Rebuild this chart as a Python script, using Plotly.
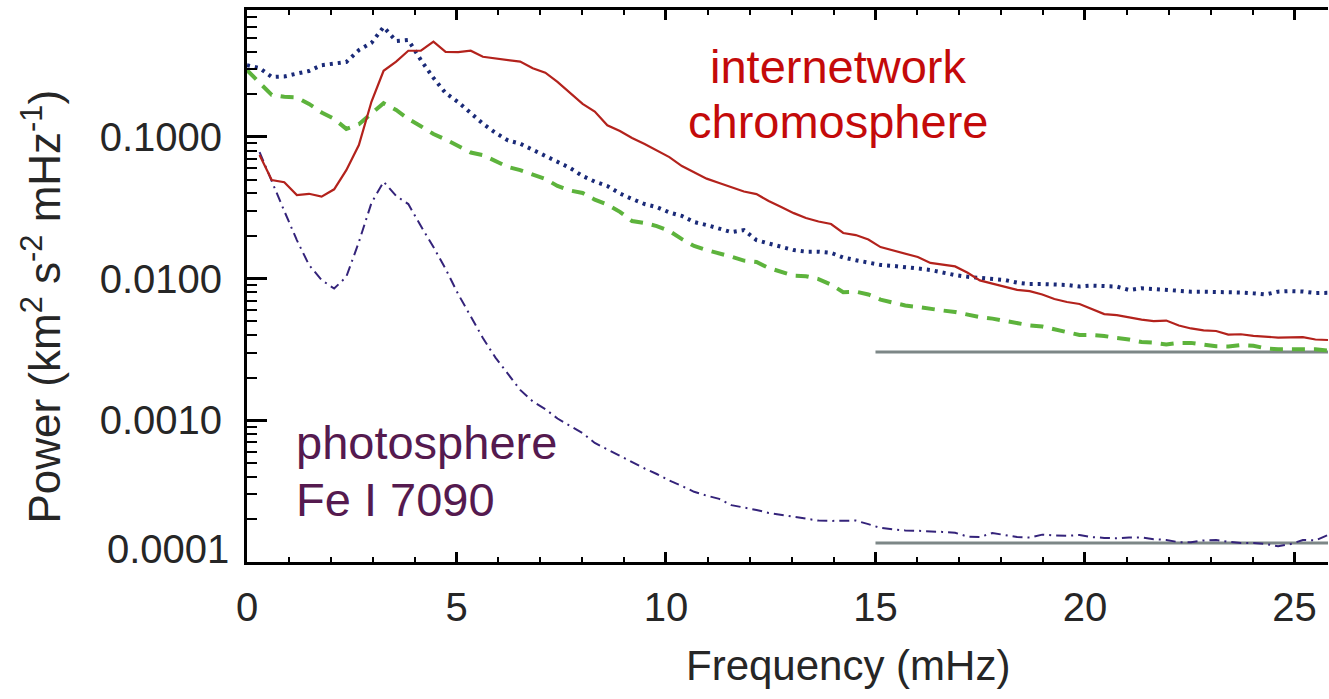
import plotly.graph_objects as go

# Frequency grid (mHz)
freq = [0.00, 0.30, 0.59, 0.89, 1.19, 1.48, 1.78, 2.08, 2.37, 2.67, 2.97, 3.26, 3.56, 3.85, 4.15,
        4.45, 4.74, 5.04, 5.34, 5.63, 5.93, 6.23, 6.52, 6.82, 7.12, 7.41, 7.71, 8.01, 8.30, 8.60,
        8.90, 9.19, 9.49, 9.78, 10.08, 10.38, 10.67, 10.97, 11.27, 11.56, 11.86, 12.16, 12.45,
        12.75, 13.05, 13.34, 13.64, 13.94, 14.23, 14.53, 14.83, 15.12, 15.42, 15.71, 16.01, 16.31,
        16.60, 16.90, 17.20, 17.49, 17.79, 18.09, 18.38, 18.68, 18.98, 19.27, 19.57, 19.87, 20.16,
        20.46, 20.76, 21.05, 21.35, 21.64, 21.94, 22.24, 22.53, 22.83, 23.13, 23.42, 23.72, 24.02,
        24.31, 24.61, 24.91, 25.20, 25.50, 25.80]

# Internetwork chromosphere (solid red), starts at freq[1]
power_internetwork = [
    0.0745, 0.0497, 0.0479, 0.0389, 0.0397, 0.0379, 0.0427, 0.0583, 0.0877, 0.177,
    0.293, 0.340, 0.406, 0.406, 0.470, 0.399, 0.397, 0.406, 0.368, 0.359,
    0.349, 0.340, 0.305, 0.284, 0.245, 0.205, 0.171, 0.151, 0.121, 0.110,
    0.0982, 0.0891, 0.0802, 0.0721, 0.0623, 0.0565, 0.0508, 0.0473, 0.0440, 0.0412,
    0.0395, 0.0353, 0.0320, 0.0290, 0.0268, 0.0253, 0.0243, 0.0210, 0.0203, 0.0189,
    0.0167, 0.0158, 0.0149, 0.0142, 0.0129, 0.0126, 0.0122, 0.0110, 0.00971, 0.00923,
    0.00879, 0.00834, 0.00817, 0.00773, 0.00718, 0.00684, 0.00662, 0.00610, 0.00562, 0.00553,
    0.00531, 0.00514, 0.00502, 0.00506, 0.00467, 0.00445, 0.00431, 0.00427, 0.00403, 0.00405,
    0.00394, 0.00387, 0.00384, 0.00385, 0.00387, 0.00372, 0.00369]

# Dotted navy curve, starts at freq[0]
power_dotted = [
    0.321, 0.306, 0.265, 0.267, 0.280, 0.292, 0.321, 0.327, 0.338, 0.410,
    0.461, 0.597, 0.475, 0.483, 0.349, 0.261, 0.204, 0.176, 0.148, 0.124,
    0.107, 0.0944, 0.0897, 0.0809, 0.0733, 0.0665, 0.0604, 0.0530, 0.0484, 0.0451,
    0.0399, 0.0365, 0.0336, 0.0320, 0.0293, 0.0277, 0.0251, 0.0239, 0.0226, 0.0213,
    0.0220, 0.0187, 0.0177, 0.0167, 0.0159, 0.0155, 0.0155, 0.0152, 0.0141, 0.0135,
    0.0130, 0.0125, 0.0123, 0.0121, 0.0118, 0.0115, 0.0110, 0.0106, 0.0103, 0.0101,
    0.0100, 0.00977, 0.00937, 0.00916, 0.00916, 0.00912, 0.00902, 0.00879, 0.00893, 0.00887,
    0.00879, 0.00832, 0.00855, 0.00845, 0.00832, 0.00809, 0.00809, 0.00809, 0.00809, 0.00809,
    0.00798, 0.00787, 0.00773, 0.00809, 0.00817, 0.00811, 0.00791, 0.00794]

# Dashed green curve, starts at freq[0]
power_dashed = [
    0.296, 0.244, 0.198, 0.192, 0.190, 0.171, 0.149, 0.134, 0.114, 0.123,
    0.145, 0.173, 0.155, 0.134, 0.119, 0.105, 0.0959, 0.0869, 0.0776, 0.0745,
    0.0676, 0.0614, 0.0583, 0.0547, 0.0505, 0.0451, 0.0419, 0.0402, 0.0361, 0.0333,
    0.0296, 0.0255, 0.0247, 0.0235, 0.0217, 0.0190, 0.0170, 0.0159, 0.0151, 0.0143,
    0.0134, 0.0131, 0.0119, 0.0112, 0.0105, 0.0104, 0.00993, 0.00908, 0.00803, 0.00809,
    0.00773, 0.00711, 0.00678, 0.00646, 0.00631, 0.00610, 0.00596, 0.00581, 0.00553, 0.00536,
    0.00522, 0.00502, 0.00482, 0.00468, 0.00459, 0.00438, 0.00417, 0.00400, 0.00400, 0.00394,
    0.00381, 0.00372, 0.00357, 0.00353, 0.00343, 0.00352, 0.00352, 0.00340, 0.00333, 0.00332,
    0.00340, 0.00336, 0.00322, 0.00317, 0.00317, 0.00321, 0.00317, 0.00311]

# Photosphere Fe I 7090 (dash-dot), starts at freq[1]
power_photosphere = [
    0.0781, 0.0481, 0.0300, 0.0187, 0.0125, 0.00977, 0.00851, 0.0103, 0.0181, 0.0342,
    0.0483, 0.0383, 0.0336, 0.0235, 0.0167, 0.0117, 0.00778, 0.00541, 0.00381, 0.00277,
    0.00210, 0.00164, 0.00136, 0.00120, 0.00103, 0.000912, 0.000813, 0.000692, 0.000622, 0.000560,
    0.000504, 0.000457, 0.000418, 0.000376, 0.000344, 0.000313, 0.000294, 0.000279, 0.000252, 0.000243,
    0.000233, 0.000222, 0.000215, 0.000208, 0.000200, 0.000196, 0.000195, 0.000195, 0.000196, 0.000185,
    0.000174, 0.000170, 0.000167, 0.000166, 0.000165, 0.000163, 0.000161, 0.000151, 0.000150, 0.000160,
    0.000155, 0.000150, 0.000149, 0.000156, 0.000154, 0.000153, 0.000155, 0.000150, 0.000148, 0.000147,
    0.000149, 0.000149, 0.000145, 0.000143, 0.000138, 0.000138, 0.000142, 0.000143, 0.000139, 0.000136,
    0.000136, 0.000134, 0.000129, 0.000134, 0.000143, 0.000142, 0.000155]

# Noise levels (grey horizontal lines)
noise_freq = [15.0, 25.8]
noise_chromo = [0.00303, 0.00303]
noise_photo = [0.000136, 0.000136]

ytick_vals = [0.0001, 0.001, 0.01, 0.1]
ytick_text = ["", "0.0010", "0.0100", "0.1000"]
xtick_vals = [0, 5, 10, 15, 20, 25]

FONT = "Liberation Sans, Arial, Helvetica, sans-serif"
TXT = "#262626"

fig = go.Figure()
fig.add_trace(go.Scatter(x=noise_freq, y=noise_chromo, mode="lines",
                         line=dict(color="#7d8787", width=3)))
fig.add_trace(go.Scatter(x=noise_freq, y=noise_photo, mode="lines",
                         line=dict(color="#7d8787", width=3)))
fig.add_trace(go.Scatter(x=freq[1:], y=power_photosphere, mode="lines",
                         line=dict(color="#34237a", width=2, dash="10px,5px,2px,5px")))
fig.add_trace(go.Scatter(x=freq, y=power_dashed, mode="lines",
                         line=dict(color="#5db33c", width=4, dash="13px,9px")))
fig.add_trace(go.Scatter(x=freq, y=power_dotted, mode="lines",
                         line=dict(color="#1a2a78", width=4, dash="3px,5px")))
fig.add_trace(go.Scatter(x=freq[1:], y=power_internetwork, mode="lines",
                         line=dict(color="#b3221c", width=2.2)))

fig.update_layout(
    width=1329, height=699,
    margin=dict(l=247, r=1, t=10, b=137),
    paper_bgcolor="white", plot_bgcolor="white",
    showlegend=False,
    font=dict(family=FONT, color=TXT),
)

fig.update_xaxes(
    range=[0, 25.8], tickmode="array", tickvals=xtick_vals,
    ticks="inside", ticklen=10, tickwidth=2.5, tickcolor="black",
    showline=True, linewidth=3, linecolor="black", mirror="allticks",
    showgrid=False, zeroline=False,
    tickfont=dict(size=40, color=TXT, family=FONT), ticklabelstandoff=8,
    minor=dict(dtick=1, ticks="inside", ticklen=5, tickwidth=2, tickcolor="black", showgrid=False),
)
fig.update_yaxes(
    type="log", range=[-4, -0.104], tickmode="array",
    tickvals=ytick_vals, ticktext=ytick_text,
    ticks="inside", ticklen=20, tickwidth=3, tickcolor="black",
    showline=True, linewidth=3, linecolor="black", mirror=False,
    showgrid=False, zeroline=False,
    tickfont=dict(size=40, color=TXT, family=FONT), ticklabelstandoff=14,
    minor=dict(dtick="D1", ticks="inside", ticklen=10, tickwidth=2, tickcolor="black", showgrid=False),
)

ann = []
ann.append(dict(text="Power (km<sup>2</sup> s<sup>-2</sup> mHz<sup>-1</sup>)", textangle=-90,
                xref="paper", yref="paper", x=-0.19, y=0.462, xanchor="center", yanchor="middle",
                showarrow=False, font=dict(size=44, color=TXT, family=FONT)))
ann.append(dict(text="0.0001", xref="paper", yref="paper", x=-0.0148, y=0.0236,
                xanchor="right", yanchor="middle", showarrow=False,
                font=dict(size=40, color=TXT, family=FONT)))
ann.append(dict(text="Frequency (mHz)", xref="paper", yref="paper", x=0.556, y=-0.188,
                xanchor="center", yanchor="middle", showarrow=False,
                font=dict(size=42, color=TXT, family=FONT)))
ann.append(dict(text="internetwork", xref="paper", yref="paper", x=0.5467, y=0.8976,
                xanchor="center", yanchor="middle", showarrow=False,
                font=dict(size=47, color="#c40a0a", family=FONT)))
ann.append(dict(text="chromosphere", xref="paper", yref="paper", x=0.5467, y=0.798,
                xanchor="center", yanchor="middle", showarrow=False,
                font=dict(size=47, color="#c40a0a", family=FONT)))
ann.append(dict(text="photosphere", xref="paper", yref="paper", x=0.0435, y=0.2165,
                xanchor="left", yanchor="middle", showarrow=False,
                font=dict(size=47, color="#551a4f", family=FONT)))
ann.append(dict(text="Fe I 7090", xref="paper", yref="paper", x=0.0435, y=0.1132,
                xanchor="left", yanchor="middle", showarrow=False,
                font=dict(size=47, color="#551a4f", family=FONT)))
fig.update_layout(annotations=ann)

fig.write_html("out.html", config={"displayModeBar": False},
               post_script="document.body.style.margin='0';document.body.style.overflow='hidden';")
